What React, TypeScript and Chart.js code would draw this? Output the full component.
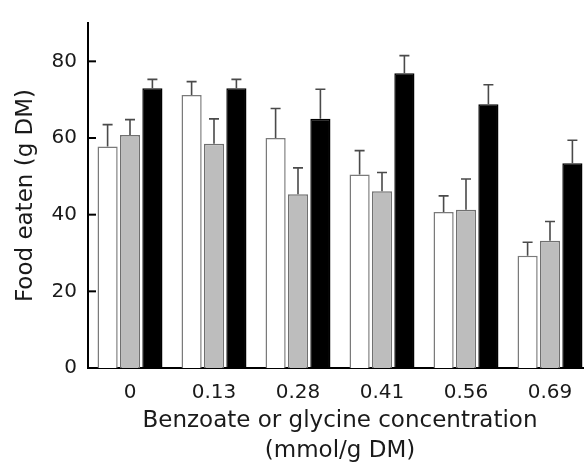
import React, { useEffect, useRef } from "react";
import { Chart, registerables } from "chart.js";

Chart.register(...registerables);

const categories = ["0", "0.13", "0.28", "0.41", "0.56", "0.69"];
const whiteValues = [57.8, 71.2, 60.0, 50.5, 40.7, 29.3];
const whiteErrors = [5.7, 3.5, 7.7, 6.2, 4.2, 3.5];
const grayValues = [60.8, 58.5, 45.3, 46.1, 41.3, 33.2];
const grayErrors = [4.0, 6.5, 6.9, 4.9, 8.0, 5.0];
const blackValues = [73.0, 73.0, 65.0, 76.9, 68.8, 53.4];
const blackErrors = [2.3, 2.3, 7.7, 4.6, 5.1, 6.0];
const yTicks = [0, 20, 40, 60, 80];

const FONT = "'DejaVu Sans', sans-serif";

const errorBarPlugin = {
  id: "errorBars",
  afterDatasetsDraw(chart: any) {
    const { ctx } = chart;
    const yScale = chart.scales.y;
    ctx.save();
    ctx.strokeStyle = "#4a4a4a";
    ctx.lineWidth = 1.6;
    chart.data.datasets.forEach((ds: any, di: number) => {
      const meta = chart.getDatasetMeta(di);
      meta.data.forEach((bar: any, i: number) => {
        const v = ds.data[i];
        const e = ds.errors[i];
        const x = bar.x;
        const y0 = yScale.getPixelForValue(v);
        const y1 = yScale.getPixelForValue(v + e);
        ctx.beginPath();
        ctx.moveTo(x, y0);
        ctx.lineTo(x, y1);
        ctx.moveTo(x - 5, y1);
        ctx.lineTo(x + 5, y1);
        ctx.stroke();
      });
    });
    ctx.restore();
  },
};

const innerTickPlugin = {
  id: "innerTicks",
  afterDraw(chart: any) {
    const { ctx, chartArea } = chart;
    const yScale = chart.scales.y;
    ctx.save();
    ctx.strokeStyle = "#000";
    ctx.lineWidth = 2;
    yScale.ticks.forEach((t: any) => {
      const y = yScale.getPixelForValue(t.value);
      ctx.beginPath();
      ctx.moveTo(chartArea.left, y);
      ctx.lineTo(chartArea.left + 8, y);
      ctx.stroke();
    });
    ctx.restore();
  },
};

export default function App() {
  const ref = useRef<HTMLCanvasElement | null>(null);

  useEffect(() => {
    if (!ref.current) return;
    const chart = new Chart(ref.current, {
      type: "bar",
      data: {
        labels: categories,
        datasets: [
          {
            label: "Series 1",
            data: whiteValues,
            errors: whiteErrors,
            backgroundColor: "#ffffff",
            borderColor: "#7a7a7a",
            borderWidth: 1.5,
          } as any,
          {
            label: "Series 2",
            data: grayValues,
            errors: grayErrors,
            backgroundColor: "#bdbdbd",
            borderColor: "#707070",
            borderWidth: 1.5,
          } as any,
          {
            label: "Series 3",
            data: blackValues,
            errors: blackErrors,
            backgroundColor: "#000000",
            borderColor: "#000000",
            borderWidth: 1.5,
          } as any,
        ],
      },
      options: {
        animation: false,
        responsive: false,
        devicePixelRatio: 1,
        layout: { padding: { top: 8, right: 8, left: 0, bottom: 0 } },
        plugins: {
          legend: { display: false },
          tooltip: { enabled: false },
        },
        scales: {
          x: {
            type: "category",
            grid: { display: false, drawTicks: false },
            border: { display: true, color: "#000", width: 2 },
            ticks: {
              padding: 13,
              color: "#1a1a1a",
              font: { family: FONT, size: 20 },
              maxRotation: 0,
            },
            title: {
              display: true,
              text: ["Benzoate or glycine concentration", "(mmol/g DM)"],
              color: "#1a1a1a",
              font: { family: FONT, size: 23, lineHeight: 1.3 },
              padding: { top: 0, bottom: 2 },
            },
            afterFit(scale: any) {
              scale.height = 100;
            },
          },
          y: {
            min: 0,
            max: 90,
            afterBuildTicks(scale: any) {
              scale.ticks = yTicks.map((v) => ({ value: v }));
            },
            grid: { display: false, drawTicks: false },
            border: { display: true, color: "#000", width: 2 },
            ticks: {
              padding: 11,
              color: "#1a1a1a",
              font: { family: FONT, size: 20 },
            },
            title: {
              display: true,
              text: "Food eaten (g DM)",
              color: "#1a1a1a",
              font: { family: FONT, size: 23, lineHeight: 1.2 },
              padding: { top: 12, bottom: 0 },
            },
            afterFit(scale: any) {
              scale.width = 88;
            },
          },
        },
      },
      plugins: [errorBarPlugin, innerTickPlugin],
    });
    return () => chart.destroy();
  }, []);

  return (
    <div
      style={{
        position: "absolute",
        left: 0,
        top: 0,
        width: 584,
        height: 468,
        overflow: "hidden",
        background: "#fff",
      }}
    >
      <canvas ref={ref} width={600} height={468} style={{ display: "block" }} />
    </div>
  );
}
